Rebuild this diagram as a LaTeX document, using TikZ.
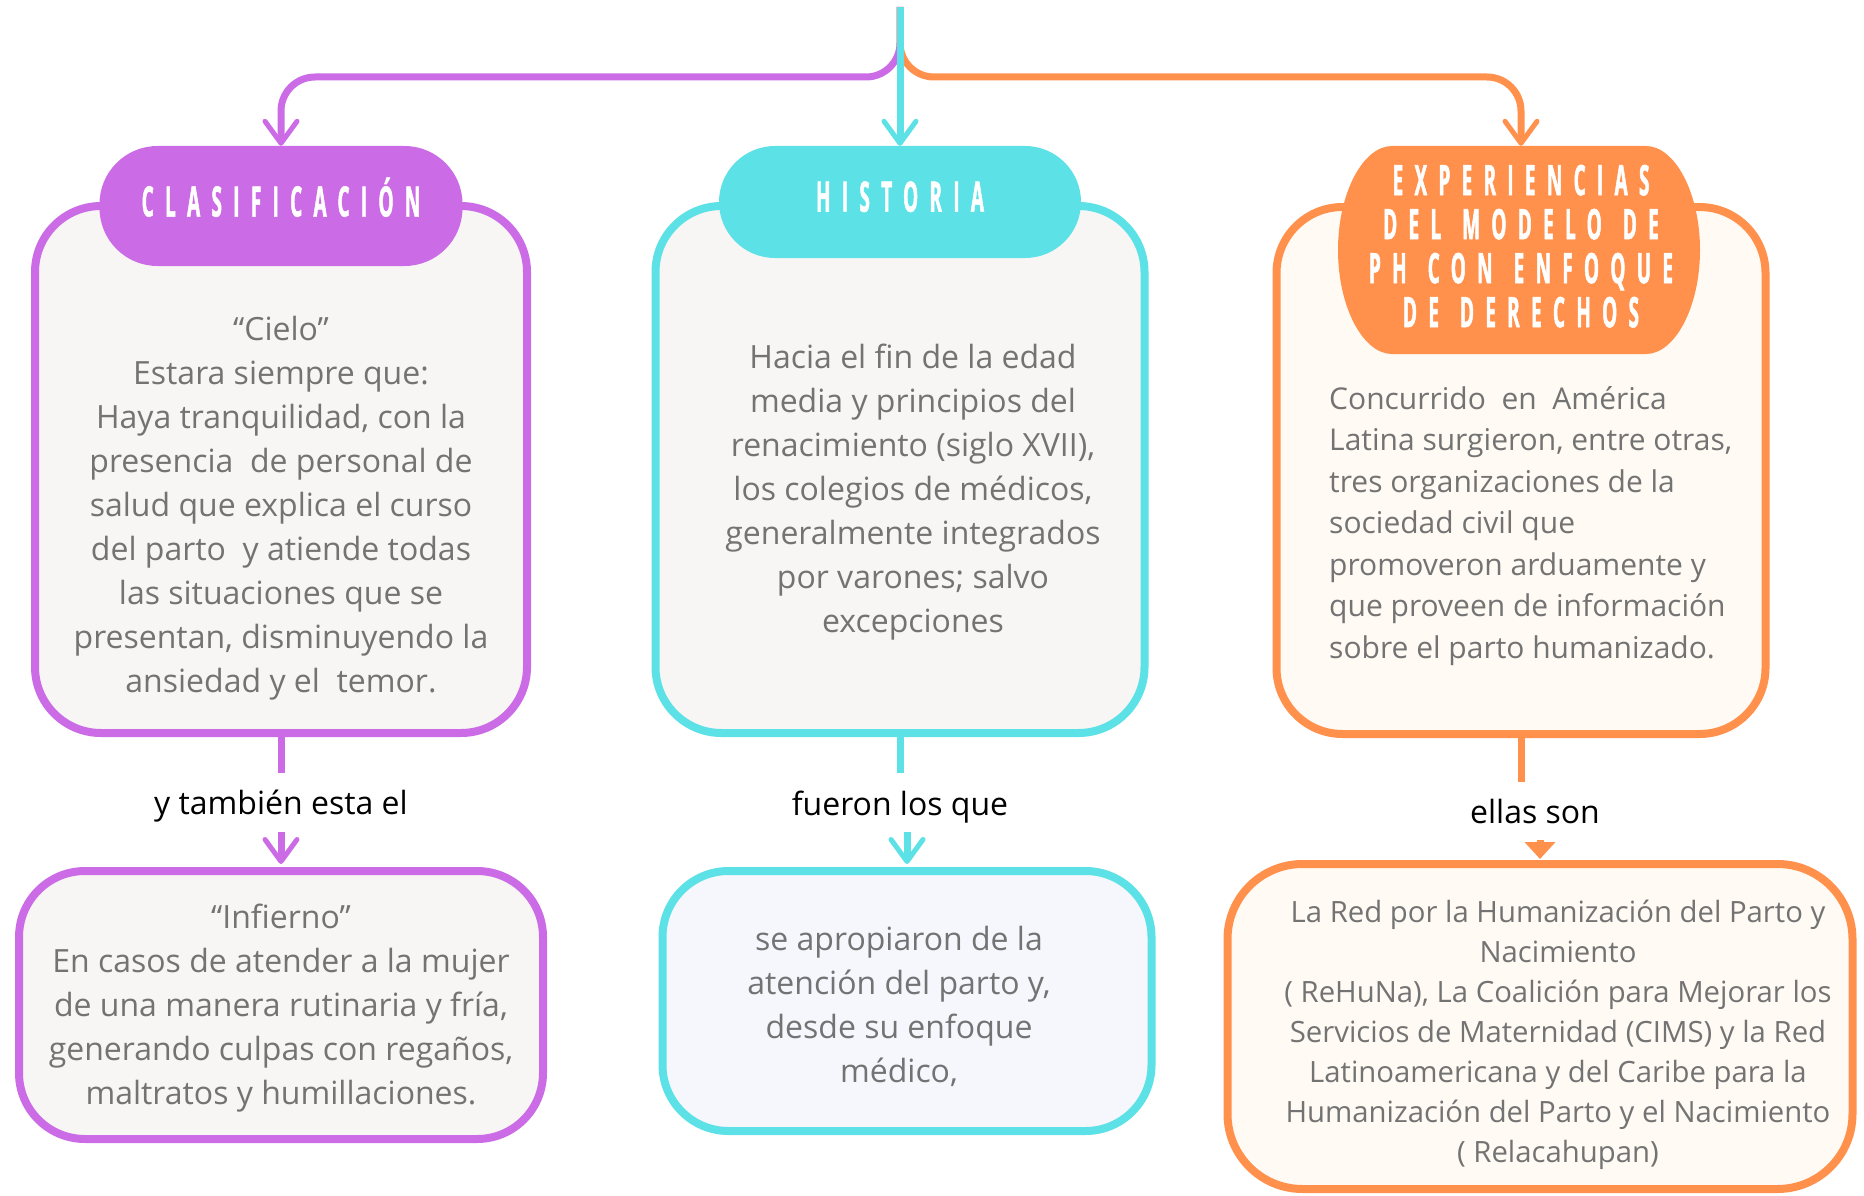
\documentclass[tikz,border=0pt]{standalone}
\usepackage{fontspec}
\setmainfont{Open Sans}
\newfontfamily\headfont[FakeStretch=0.45,LetterSpace=27,WordSpace=1.3,FakeBold=1.2]{Open Sans}
\usetikzlibrary{arrows.meta}
\definecolor{purp}{HTML}{CB6CE6}
\definecolor{cyanc}{HTML}{5CE1E6}
\definecolor{orng}{HTML}{FF914D}
\definecolor{txtgray}{HTML}{737373}
\definecolor{bgA}{HTML}{F7F6F4}
\definecolor{bgB}{HTML}{FFFAF3}
\definecolor{bgC}{HTML}{F5F7FD}
\begin{document}
\begin{tikzpicture}[x=1pt,y=-1pt]
    \tikzset{>={Straight Barb[length=22pt,width=32pt,line width=5pt,round]}}
    \tikzset{box/.style={draw=#1,line width=8pt,rounded corners=66pt,inner sep=0pt}}
    \tikzset{pill/.style={fill=#1,rounded corners=58pt,inner sep=0pt,text=white,align=center,
        font=\headfont\bfseries\fontsize{42}{44}\selectfont}}
    \tikzset{body/.style={text=txtgray,align=center,inner sep=0pt,anchor=north,
        font=\fontsize{32}{44}\selectfont}}
    \tikzset{lbl/.style={anchor=base,inner sep=0pt,font=\fontsize{32}{36}\selectfont}}
    \tikzset{link/.style={#1,line width=7pt}}
    \useasboundingbox (0,0) rectangle (1864,1196);

    \node[box=purp,fill=bgA,minimum width=492pt,minimum height=527pt] (cielo) at (281,469.5) {};
    \node[box=cyanc,fill=bgA,minimum width=489pt,minimum height=527pt] (hbox) at (900,469.5) {};
    \node[box=orng,fill=bgB,minimum width=489pt,minimum height=527pt] (ebox) at (1521,470.5) {};
    \node[box=purp,fill=bgA,minimum width=524pt,minimum height=268pt] (infierno) at (281,1005) {};
    \node[box=cyanc,fill=bgC,minimum width=489pt,minimum height=260pt] (medico) at (907,1001) {};
    \node[box=orng,fill=bgB,minimum width=625pt,minimum height=325pt,rounded corners=75pt] (redes) at (1540,1026.5) {};

    \node[pill=purp,minimum width=363pt,minimum height=120pt,text depth=18pt] (clas) at (281,206) {CLASIFICACIÓN};
    \node[pill=cyanc,minimum width=362pt,minimum height=112pt,rounded corners=56pt,text depth=11pt] (hist) at (900,202) {HISTORIA};
    \fill[orng] (1392,146) -- (1646,146) .. controls (1675,146) and (1700,193) .. (1700,250)
        .. controls (1700,307) and (1675,354) .. (1646,354) -- (1392,354)
        .. controls (1363,354) and (1338,307) .. (1338,250)
        .. controls (1338,193) and (1363,146) .. (1392,146) -- cycle;
    \node[pill=orng,fill=none,minimum width=362pt,minimum height=208pt,text depth=8pt] (exp) at (1521,250)
        {EXPERIENCIAS\\DEL MODELO DE\\PH CON ENFOQUE\\DE DERECHOS};

    \node[body] (t1) at (281,315.5) {“Cielo”\\Estara siempre que:\\Haya tranquilidad, con la\\presencia~ de personal de\\salud que explica el curso\\del parto~ y atiende todas\\las situaciones que se\\presentan, disminuyendo la\\ansiedad y el~ temor.};
    \node[body] (t2) at (913,343.5) {Hacia el fin de la edad\\media y principios del\\renacimiento (siglo XVII),\\los colegios de médicos,\\generalmente integrados\\por varones; salvo\\excepciones};
    \node[body,anchor=north west,align=left,font=\fontsize{30}{41.5}\selectfont] (t3) at (1329,386) {Concurrido~ en~ América\\Latina surgieron, entre otras,\\tres organizaciones de la\\sociedad civil que\\promoveron arduamente y\\que proveen de información\\sobre el parto humanizado.};
    \node[body] (t4) at (281,903.5) {“Infierno”\\En casos de atender a la mujer\\de una manera rutinaria y fría,\\generando culpas con regaños,\\maltratos y humillaciones.};
    \node[body] (t5) at (899,925.5) {se apropiaron de la\\atención del parto y,\\desde su enfoque\\médico,};
    \node[body,font=\fontsize{29.3}{40}\selectfont] (t6) at (1558,900) {La Red por la Humanización del Parto y\\Nacimiento\\( ReHuNa), La Coalición para Mejorar los\\Servicios de Maternidad (CIMS) y la Red\\Latinoamericana y del Caribe para la\\Humanización del Parto y el Nacimiento\\( Relacahupan)};

    \node[lbl] (l1) at (281,814) {y también esta el};
    \node[lbl] (l2) at (900,815) {fueron los que};
    \node[lbl] (l3) at (1535,823) {ellas son};

    \coordinate (top) at (900,7);
    \coordinate (fork) at (900,77);
    \draw[link=purp,rounded corners=34pt,->] (top) -- (fork) -| (clas.north);
    \draw[link=orng,rounded corners=34pt,->] (top) -- (fork) -| (exp.north);
    \draw[link=cyanc,->] (top) -- (hist.north);

    \coordinate (a1) at (281,773);
    \coordinate (b1) at (281,832);
    \coordinate (a2) at (900,773);
    \coordinate (b2) at (907,832);
    \coordinate (a3) at (1521,782);
    \coordinate (b3) at (1540,840);
    \draw[link=purp] (cielo.south) -- (a1);
    \draw[link=purp,->,shorten >=3pt] (b1) -- (infierno.north);
    \draw[link=cyanc] (hbox.south) -- (a2);
    \draw[link=cyanc,->,shorten >=3pt] (b2) -- (medico.north);
    \draw[link=orng] (ebox.south) -- (a3);
    \draw[link=orng,-{Triangle[length=17pt,width=30pt]},shorten >=1pt] (b3) -- (redes.north);
\end{tikzpicture}
\end{document}
